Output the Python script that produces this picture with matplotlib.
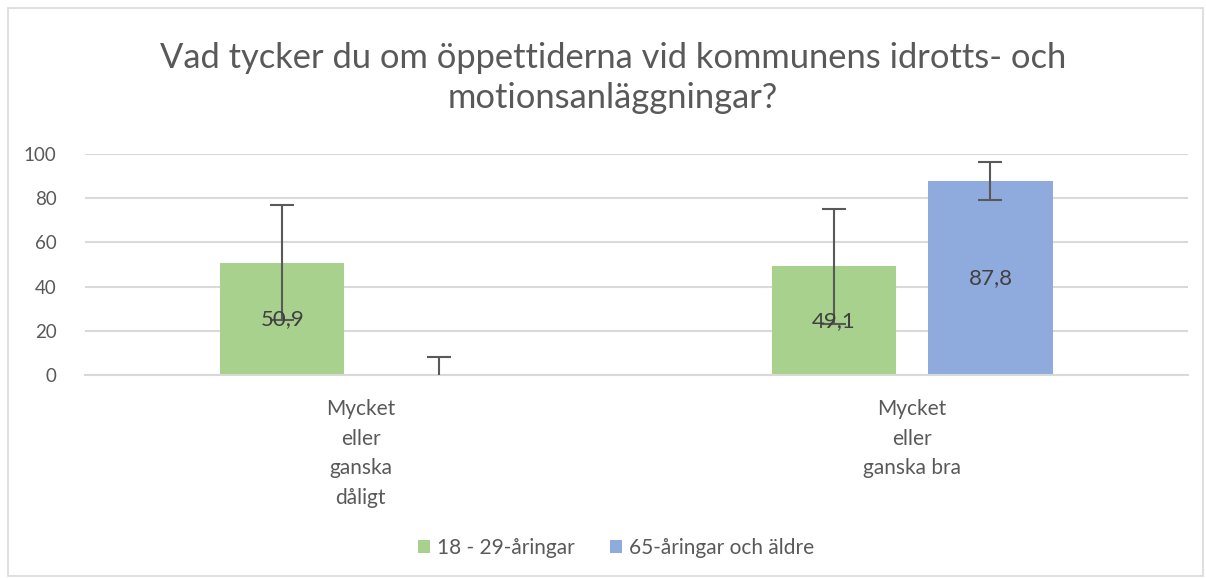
import numpy as np
import matplotlib.pyplot as plt
from matplotlib.patches import Rectangle

plt.rcParams['font.family'] = ['Lato', 'DejaVu Sans']

categories = ["Mycket\neller\nganska\ndåligt", "Mycket\neller\nganska bra"]
series_names = ["18 - 29-åringar", "65-åringar och äldre"]
young = [50.9, 49.1]
old = [0.0, 87.8]
young_err = [26.0, 26.0]
old_err = [8.3, 8.4]
old_labels = ["", "87,8"]
young_labels = ["50,9", "49,1"]

colors = ["#a9d18e", "#8faadc"]
text_grey = "#595959"

fig = plt.figure(figsize=(12.06, 5.78), dpi=100)
fig.patches.append(Rectangle((8/1206, 2/578), 1195/1206, 568/578, transform=fig.transFigure,
                             fill=False, edgecolor="#d9d9d9", linewidth=1.2))
ax = fig.add_axes([0.0705, 0.3512, 0.9145, 0.3824])

x = np.arange(len(categories))
w = 0.225
off = 0.142
ax.bar(x - off, young, w, color=colors[0], label=series_names[0], zorder=2)
ax.bar(x + off, old, w, color=colors[1], label=series_names[1], zorder=2)
ax.errorbar(x - off, young, yerr=young_err, fmt="none", ecolor=text_grey,
            elinewidth=1.5, capsize=8.5, capthick=1.5, zorder=3)
ax.errorbar(x + off, old, yerr=old_err, fmt="none", ecolor=text_grey,
            elinewidth=1.5, capsize=8.5, capthick=1.5, zorder=3)

for i in range(len(categories)):
    ax.text(x[i] - off, young[i] / 2, young_labels[i], ha="center", va="center",
            fontsize=16, color="#404040", zorder=4)
    if old_labels[i]:
        ax.text(x[i] + off, old[i] / 2, old_labels[i], ha="center", va="center",
                fontsize=16, color="#404040", zorder=4)

ax.set_xlim(-0.5, 1.5)
ax.set_ylim(0, 100)
ax.set_yticks(range(0, 101, 20))
ax.set_xticks(x)
ax.set_xticklabels(categories, fontsize=15, color=text_grey, linespacing=1.62)
ax.tick_params(axis="y", labelsize=13.5, labelcolor=text_grey, length=0, pad=20.5)
ax.tick_params(axis="x", length=0, pad=17)
ax.grid(axis="y", color="#d9d9d9", linewidth=1.5, zorder=0)
for s in ["top", "right", "left"]:
    ax.spines[s].set_visible(False)
ax.spines["bottom"].set_color("#d9d9d9")
ax.spines["bottom"].set_linewidth(1.5)

fig.text(0.508, 0.865, "Vad tycker du om öppettiderna vid kommunens idrotts- och\nmotionsanläggningar?",
         ha="center", va="center", fontsize=24.8, color=text_grey, linespacing=1.33)

fig.legend(loc="center", bbox_to_anchor=(0.511, 0.052), ncol=2, frameon=False,
           fontsize=15, labelcolor=text_grey, handlelength=0.55, handleheight=0.55,
           handletextpad=0.35, columnspacing=1.7)

fig.savefig("out.png", dpi=100)
